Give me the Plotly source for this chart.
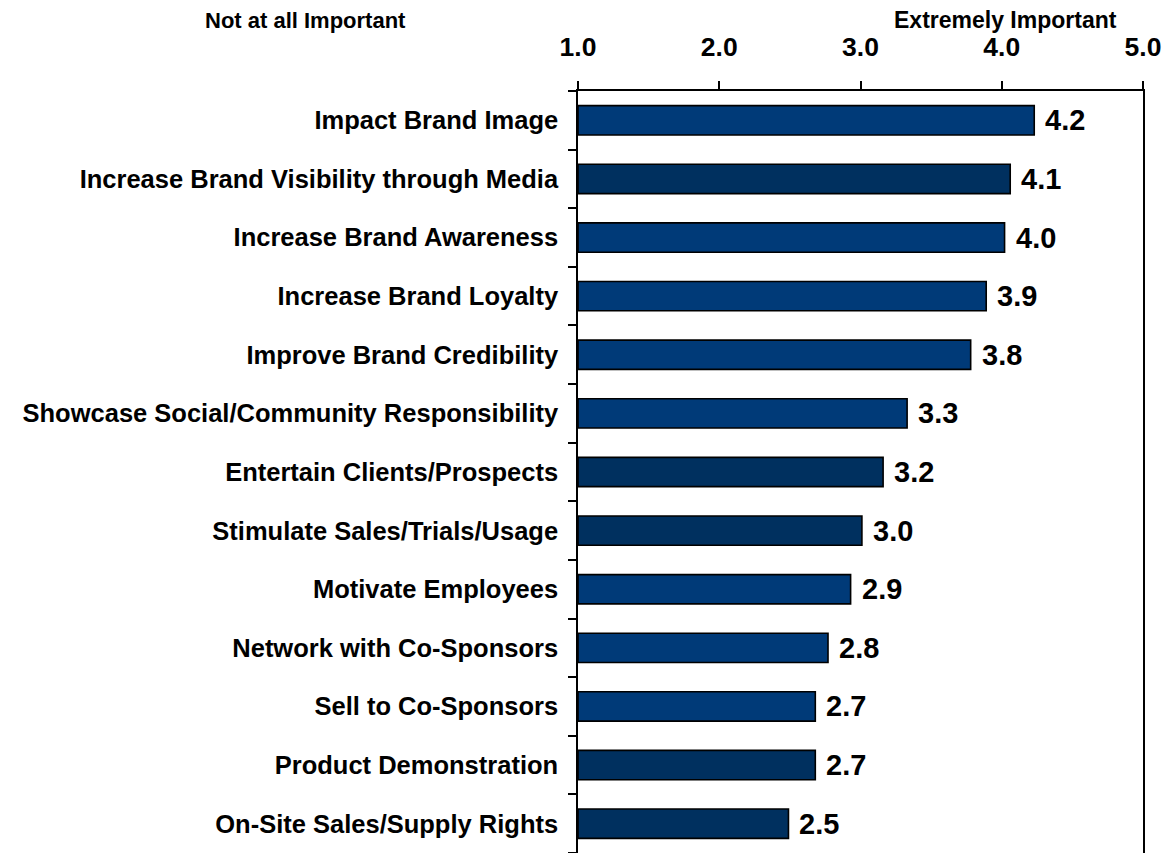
import plotly.graph_objects as go

# Objectives of sponsorship, mean importance on a 1-5 scale
objectives = [
    "Impact Brand Image",
    "Increase Brand Visibility through Media",
    "Increase Brand Awareness",
    "Increase Brand Loyalty",
    "Improve Brand Credibility",
    "Showcase Social/Community Responsibility",
    "Entertain Clients/Prospects",
    "Stimulate Sales/Trials/Usage",
    "Motivate Employees",
    "Network with Co-Sponsors",
    "Sell to Co-Sponsors",
    "Product Demonstration",
    "On-Site Sales/Supply Rights",
]
scores = [4.23, 4.06, 4.02, 3.89, 3.78, 3.33, 3.16, 3.01, 2.93, 2.77, 2.68, 2.68, 2.49]
bar_colors = [
    "#003A78", "#00305F", "#003A78", "#003A78", "#003A78", "#003A78", "#00305F",
    "#00305F", "#003A78", "#003A78", "#003A78", "#00305F", "#00305F",
]
tick_vals = [1, 2, 3, 4, 5]
tick_text = ["1.0", "2.0", "3.0", "4.0", "5.0"]

SCALE_MIN = 1.0
FONT = "Liberation Sans, Arial, sans-serif"

W, H = 1174, 853
ML, MR, MT, MB = 578, 31, 91, 0
PW, PH = W - ML - MR, H - MT - MB


def px_to_paper(px, py):
    """Pixel position on the page -> paper coordinates of the plot area."""
    return (px - ML) / PW, (H - MB - py) / PH


fig = go.Figure()
fig.add_trace(
    go.Bar(
        y=objectives,
        x=[s - SCALE_MIN for s in scores],
        base=SCALE_MIN,
        orientation="h",
        width=0.5,
        marker=dict(color=bar_colors, line=dict(color="#000000", width=1.6)),
        customdata=scores,
        hovertemplate="%{y}: %{customdata:.1f}<extra></extra>",
    )
)

# Value labels beside each bar end
for name, s in zip(objectives, scores):
    fig.add_annotation(
        x=s, y=name, xref="x", yref="y",
        text=f"<b>{s:.1f}</b>", showarrow=False,
        xanchor="left", xshift=9,
        font=dict(family=FONT, size=29, color="#000000"),
    )

# Scale end labels
for label, (px, py), size in [
    ("Not at all Important", (305, 20), 22),
    ("Extremely Important", (1005, 20), 23),
]:
    ax, ay = px_to_paper(px, py)
    fig.add_annotation(
        x=ax, y=ay, xref="paper", yref="paper", text=f"<b>{label}</b>",
        showarrow=False, xanchor="center", yanchor="middle",
        font=dict(family=FONT, size=size, color="#000000"),
    )

fig.update_layout(
    width=W, height=H,
    margin=dict(l=ML, r=MR, t=MT, b=MB, pad=0),
    plot_bgcolor="#FFFFFF", paper_bgcolor="#FFFFFF",
    showlegend=False,
    font=dict(family=FONT, color="#000000"),
    bargap=0.5,
)
fig.update_xaxes(
    side="top", range=[SCALE_MIN, 5.0],
    tickvals=tick_vals, ticktext=[f"<b>{t}</b>" for t in tick_text],
    tickfont=dict(family=FONT, size=26.5, color="#000000"),
    ticks="outside", ticklen=8, tickwidth=1.5, tickcolor="#000000",
    showline=True, linecolor="#000000", linewidth=1.5,
    showgrid=False, zeroline=False, ticklabelstandoff=15,
)
fig.update_yaxes(
    autorange="reversed",
    tickvals=objectives, ticktext=[f"<b>{o}</b>" for o in objectives],
    tickfont=dict(family=FONT, size=25.5, color="#000000"),
    ticks="outside", ticklen=8, tickwidth=1.5, tickcolor="#000000",
    tickson="boundaries",
    showline=True, mirror=True, linecolor="#000000", linewidth=1.5,
    showgrid=False, ticklabelstandoff=13,
)

fig.write_html("out.html")
